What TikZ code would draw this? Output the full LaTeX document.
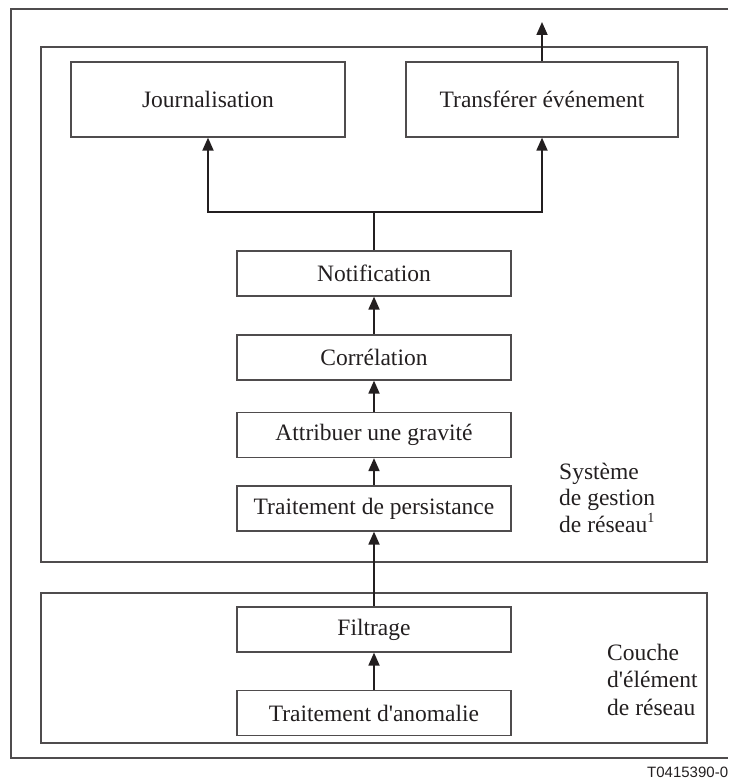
\documentclass[tikz,border=0pt]{standalone}
\usepackage{fontspec}
\setmainfont{Liberation Serif}
\newfontfamily\capfont{Liberation Sans}
\usetikzlibrary{arrows.meta}
\definecolor{ink}{HTML}{231F20}
\begin{document}
\begin{tikzpicture}[x=1pt,y=-1pt,
  frame/.style={draw=ink!80, line width=1.2pt},
  stepbox/.style={frame, rectangle, inner sep=0pt, minimum width=274pt,
    minimum height=45pt, text=ink, font=\fontsize{23.5}{26}\selectfont},
  areabox/.style={frame, rectangle, inner sep=0pt},
  areatext/.style={align=left, inner sep=0pt, text=ink},
  wire/.style={draw=ink, line width=1.8pt},
  flow/.style={wire, -{Triangle[length=13pt,width=11pt]}}]
\useasboundingbox (0,0) rectangle (728,778);
\clip (0,0) rectangle (728,778);

% outer frame (runs off to the right)
\draw[frame] (728,9) -| (11,758) -- (728,758);

% the two layers
\node[areabox, minimum width=666pt, minimum height=515pt] (nms) at (374,304.5) {};
\node[areabox, minimum width=666pt, minimum height=150pt] (nel) at (374,668) {};

% top boxes
\node[stepbox, minimum width=274pt, minimum height=75pt] (journal) at (208,99.5) {Journalisation};
\node[stepbox, minimum width=272pt, minimum height=75pt] (transfer) at (542,99.5) {Transférer événement};

% processing chain
\node[stepbox] (notif)   at (374,273.5) {Notification};
\node[stepbox] (corr)    at (374,357.5) {Corrélation};
\node[stepbox] (grav)    at (374,435)   {Attribuer une gravité};
\node[stepbox] (persist) at (374,508.5) {Traitement de persistance};
\node[stepbox] (filt)    at (374,629.5) {Filtrage};
\node[stepbox] (anom)    at (374,713)   {Traitement d\textquotesingle anomalie};

% layer labels (anchored on the baseline of their last line)
\node[areatext, anchor=base west, font=\fontsize{23.5}{26.5}\selectfont] (nmslabel) at (559,532)
  {Système\\de gestion\\de réseau\textsuperscript{\fontsize{14}{14}\selectfont 1}};
\node[areatext, anchor=base west, font=\fontsize{23.5}{27.5}\selectfont] (nellabel) at (607,715)
  {Couche\\d\textquotesingle élément\\de réseau};

% connectors
\coordinate (split) at (374,212);
\coordinate (out) at (542,22);
\draw[flow] (anom.north) -- (filt.south);
\draw[flow] (filt.north) -- (persist.south);
\draw[flow] (persist.north) -- (grav.south);
\draw[flow] (grav.north) -- (corr.south);
\draw[flow] (corr.north) -- (notif.south);
\draw[wire] (notif.north) -- (split);
\draw[flow] (split) -| (journal.south);
\draw[flow] (split) -| (transfer.south);
\draw[flow] (transfer.north) -- (out);

% figure code
\node[anchor=base west, inner sep=0pt, text=ink,
  font=\capfont\fontsize{15}{18}\selectfont] (code) at (647,777) {T0415390-0};
\end{tikzpicture}
\end{document}
